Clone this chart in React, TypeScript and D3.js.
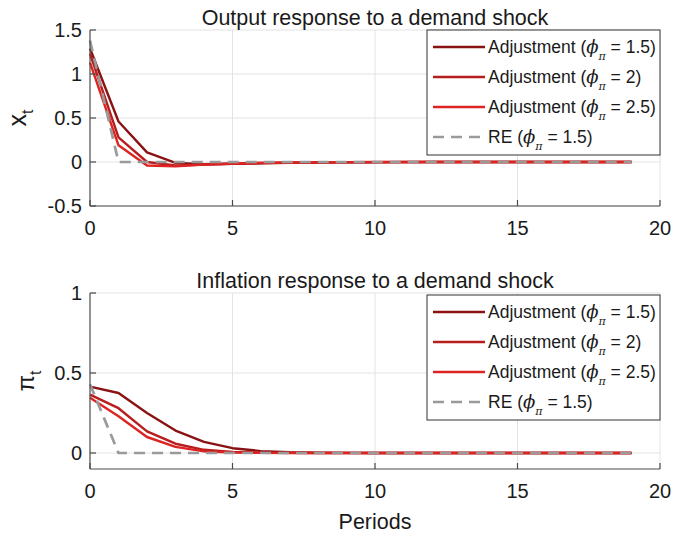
import React from "react";
import * as d3 from "d3";

const periods = d3.range(0, 20);

const outputAdj15 = [1.29, 0.46, 0.11, -0.01, -0.025, -0.02, -0.015, -0.01, -0.006, -0.004, -0.002, -0.001, 0, 0, 0, 0, 0, 0, 0, 0];
const outputAdj2 = [1.23, 0.28, 0.0, -0.04, -0.03, -0.02, -0.012, -0.007, -0.004, -0.002, -0.001, 0, 0, 0, 0, 0, 0, 0, 0, 0];
const outputAdj25 = [1.13, 0.19, -0.04, -0.05, -0.03, -0.018, -0.01, -0.006, -0.003, -0.001, 0, 0, 0, 0, 0, 0, 0, 0, 0, 0];
const outputRE = [1.38, 0, 0, 0, 0, 0, 0, 0, 0, 0, 0, 0, 0, 0, 0, 0, 0, 0, 0, 0];

const inflAdj15 = [0.415, 0.375, 0.25, 0.14, 0.07, 0.03, 0.012, 0.005, 0.002, 0.001, 0, 0, 0, 0, 0, 0, 0, 0, 0, 0];
const inflAdj2 = [0.365, 0.28, 0.135, 0.058, 0.02, 0.007, 0.002, 0.001, 0, 0, 0, 0, 0, 0, 0, 0, 0, 0, 0, 0];
const inflAdj25 = [0.345, 0.23, 0.1, 0.038, 0.01, 0.003, 0.001, 0, 0, 0, 0, 0, 0, 0, 0, 0, 0, 0, 0, 0];
const inflRE = [0.43, 0, 0, 0, 0, 0, 0, 0, 0, 0, 0, 0, 0, 0, 0, 0, 0, 0, 0, 0];

const xTicks = [0, 5, 10, 15, 20];
const outputYTicks = [-0.5, 0, 0.5, 1, 1.5];
const inflYTicks = [0, 0.5, 1];
const phiValues = ["1.5", "2", "2.5"];

const COLORS = ["#8a1212", "#b81d1d", "#dc2522"];
const RE_COLOR = "#9a9a9a";
const AXIS = "#4a4a4a";
const GRID = "#e3e3e3";
const FONT = "'Liberation Sans', Arial, Helvetica, sans-serif";
const SERIF = "'DejaVu Serif', 'Liberation Serif', serif";
const DASH = "11,7";

type PanelProps = {
  top: number;
  bottom: number;
  yDomain: [number, number];
  yTicks: number[];
  series: number[][];
  re: number[];
  title: string;
  legendTop: number;
};

const LEFT = 90;
const RIGHT = 660;

function Panel(p: PanelProps) {
  const x = d3.scaleLinear().domain([0, 20]).range([LEFT, RIGHT]);
  const y = d3.scaleLinear().domain(p.yDomain).range([p.bottom, p.top]);
  const line = d3
    .line<number>()
    .x((_, i) => x(periods[i]))
    .y((d) => y(d));

  const legendLeft = 427;
  const legendRight = 660;
  const rowH = 30;
  const legendH = 125;

  const legendLabel = (phi: string, re: boolean) => (
    <>
      {re ? "RE (" : "Adjustment ("}
      <tspan fontStyle="italic" fontFamily={SERIF} fontSize={18}>ϕ</tspan>
      <tspan dy={7} fontSize={11} fontStyle="italic" fontFamily={SERIF}>π</tspan>
      <tspan dy={-7}>{` = ${phi})`}</tspan>
    </>
  );

  return (
    <g>
      {xTicks.slice(1).map((t) => (
        <line key={"gx" + t} x1={x(t)} x2={x(t)} y1={p.top} y2={p.bottom} stroke={GRID} strokeWidth={1} />
      ))}
      {p.yTicks.map((t) => (
        <line key={"gy" + t} x1={LEFT} x2={RIGHT} y1={y(t)} y2={y(t)} stroke={GRID} strokeWidth={1} />
      ))}
      {p.series.map((s, i) => (
        <path key={"s" + i} d={line(s) || ""} fill="none" stroke={COLORS[i]} strokeWidth={2.4} strokeLinejoin="round" />
      ))}
      <path d={line(p.re) || ""} fill="none" stroke={RE_COLOR} strokeWidth={2.7} strokeDasharray={DASH} />
      <line x1={LEFT} x2={LEFT} y1={p.top} y2={p.bottom} stroke={AXIS} strokeWidth={1.2} />
      <line x1={LEFT} x2={RIGHT} y1={p.bottom} y2={p.bottom} stroke={AXIS} strokeWidth={1.2} />
      {xTicks.map((t) => (
        <g key={"xt" + t}>
          <line x1={x(t)} x2={x(t)} y1={p.bottom} y2={p.bottom - 6} stroke={AXIS} strokeWidth={1.2} />
          <text x={x(t)} y={p.bottom + 29} textAnchor="middle" fontSize={20} fill="#1a1a1a" fontFamily={FONT}>
            {t}
          </text>
        </g>
      ))}
      {p.yTicks.map((t) => (
        <g key={"yt" + t}>
          <line x1={LEFT} x2={LEFT + 6} y1={y(t)} y2={y(t)} stroke={AXIS} strokeWidth={1.2} />
          <text x={LEFT - 8} y={y(t) + 7} textAnchor="end" fontSize={20} fill="#1a1a1a" fontFamily={FONT}>
            {t}
          </text>
        </g>
      ))}
      <text x={(LEFT + RIGHT) / 2} y={p.top - 5} textAnchor="middle" fontSize={21.5} fill="#1a1a1a" fontFamily={FONT}>
        {p.title}
      </text>
      <rect x={legendLeft} y={p.legendTop} width={legendRight - legendLeft} height={legendH} fill="#fff" stroke="#333" strokeWidth={1} />
      {[0, 1, 2, 3].map((i) => {
        const cy = p.legendTop + 17 + i * rowH;
        const isRE = i === 3;
        return (
          <g key={"lg" + i}>
            <line
              x1={legendLeft + 6}
              x2={legendLeft + 58}
              y1={cy}
              y2={cy}
              stroke={isRE ? RE_COLOR : COLORS[i]}
              strokeWidth={isRE ? 2.7 : 2.4}
              strokeDasharray={isRE ? DASH : undefined}
            />
            <text x={legendLeft + 61} y={cy + 6} fontSize={17.5} fill="#1a1a1a" fontFamily={FONT}>
              {legendLabel(isRE ? "1.5" : phiValues[i], isRE)}
            </text>
          </g>
        );
      })}
    </g>
  );
}

export default function App() {
  return (
    <svg width={675} height={534} style={{ display: "block", position: "absolute", left: 0, top: 0, background: "#fff" }}>
      <rect width={675} height={534} fill="#fff" />
      <Panel
        top={30}
        bottom={206}
        yDomain={[-0.5, 1.5]}
        yTicks={outputYTicks}
        series={[outputAdj15, outputAdj2, outputAdj25]}
        re={outputRE}
        title="Output response to a demand shock"
        legendTop={30}
      />
      <Panel
        top={293}
        bottom={469}
        yDomain={[-0.1, 1]}
        yTicks={inflYTicks}
        series={[inflAdj15, inflAdj2, inflAdj25]}
        re={inflRE}
        title="Inflation response to a demand shock"
        legendTop={295}
      />
      <text transform="translate(26,118) rotate(-90)" textAnchor="middle" fontSize={25} fill="#1a1a1a" fontFamily={FONT}>
        x<tspan dy={7} fontSize={16}>t</tspan>
      </text>
      <text transform="translate(34,381) rotate(-90)" textAnchor="middle" fontSize={24} fill="#1a1a1a" fontFamily={FONT}>
        π<tspan dy={7} fontSize={16}>t</tspan>
      </text>
      <text x={375} y={529} textAnchor="middle" fontSize={21.5} fill="#1a1a1a" fontFamily={FONT}>
        Periods
      </text>
    </svg>
  );
}
